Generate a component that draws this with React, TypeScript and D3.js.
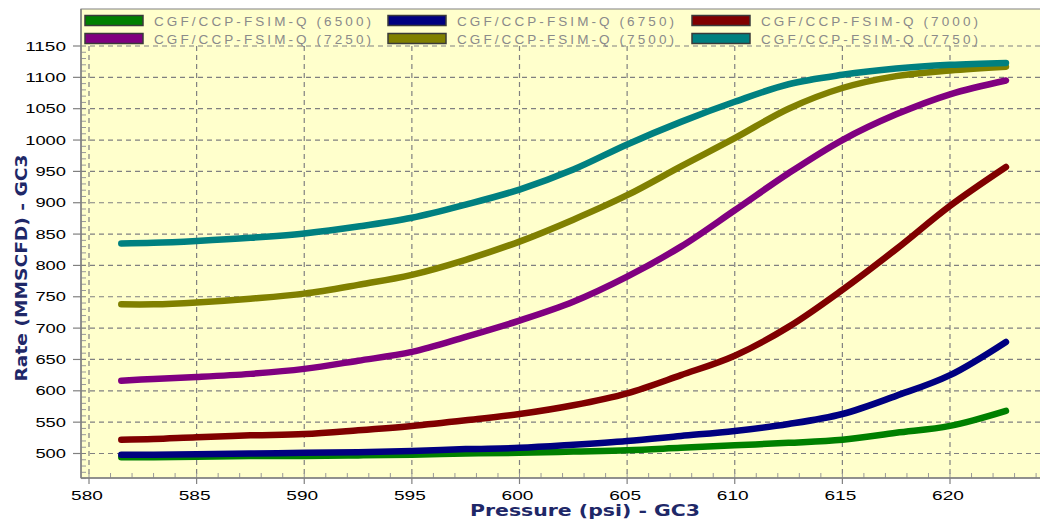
import React from "react";
import * as d3 from "d3";

const pressure = [581.5, 583, 585, 587.5, 590, 592.5, 595, 597.5, 600, 602.5, 605, 607.5, 610, 612.5, 615, 617.5, 620, 622.6];
const q6500 = [494, 494, 495, 496, 496, 497, 498, 500, 501, 503, 505, 509, 513, 517, 522, 533, 544, 568];
const q6750 = [498, 498, 499, 500, 501, 502, 504, 507, 509, 514, 520, 528, 536, 547, 563, 592, 625, 678];
const q7000 = [522, 523, 526, 529, 531, 537, 544, 553, 563, 577, 596, 625, 656, 702, 761, 826, 895, 957];
const q7250 = [616, 619, 622, 627, 635, 648, 662, 686, 712, 742, 782, 830, 888, 947, 1000, 1041, 1073, 1095];
const q7500 = [738, 738, 741, 747, 755, 769, 785, 809, 838, 873, 912, 958, 1003, 1050, 1083, 1102, 1111, 1117];
const q7750 = [835, 836, 839, 844, 851, 862, 876, 897, 921, 953, 993, 1029, 1061, 1089, 1104, 1114, 1120, 1123];

const seriesNames = [
  "CGF/CCP-FSIM-Q (6500)",
  "CGF/CCP-FSIM-Q (6750)",
  "CGF/CCP-FSIM-Q (7000)",
  "CGF/CCP-FSIM-Q (7250)",
  "CGF/CCP-FSIM-Q (7500)",
  "CGF/CCP-FSIM-Q (7750)",
];
const seriesValues = [q6500, q6750, q7000, q7250, q7500, q7750];
const seriesColors = ["#008000", "#000080", "#800000", "#800080", "#808000", "#008080"];

const xTicks = [580, 585, 590, 595, 600, 605, 610, 615, 620];
const yTicks = [500, 550, 600, 650, 700, 750, 800, 850, 900, 950, 1000, 1050, 1100, 1150];

export default function App() {
  const W = 1040, H = 520;
  const left = 81, top = 9, bottom = 478;
  const x = d3.scaleLinear().domain([580, 620]).range([89, 950]);
  const y = d3.scaleLinear().domain([500, 1150]).range([453.5, 46]);
  const line = d3
    .line<[number, number]>()
    .x((d) => x(d[0]))
    .y((d) => y(d[1]))
    .curve(d3.curveCatmullRom.alpha(0.5));

  const xMinor = d3.range(580, 625, 1);
  const yMinor = d3.range(460, 1160, 10).filter((v) => v % 50 !== 0);
  const grid = "#808080";
  const tickFont = "'Liberation Sans', Arial, sans-serif";
  const titleColor = "#1f2868";

  const legendCols = [85, 388, 692];
  const legendRows = [15.5, 33.5];

  return (
    <svg width={W} height={H} style={{ position: "absolute", left: 0, top: 0, background: "#ffffff" }}>
      <rect x={left} y={top} width={W - left + 10} height={bottom - top} fill="#FFFFCC" stroke={grid} strokeWidth={1} />

      {/* grid */}
      {yTicks.map((v) => (
        <line key={"gy" + v} x1={left} x2={W} y1={y(v)} y2={y(v)} stroke={grid} strokeWidth={1.2} strokeDasharray="5,4" />
      ))}
      {xTicks.map((v) => (
        <line key={"gx" + v} x1={x(v)} x2={x(v)} y1={y(1150)} y2={bottom} stroke={grid} strokeWidth={1.2} strokeDasharray="5,4" />
      ))}

      {/* minor ticks */}
      {xMinor.map((v) => (
        <line key={"mx" + v} x1={x(v)} x2={x(v)} y1={bottom} y2={bottom - 5} stroke="#999" strokeWidth={1} />
      ))}
      {yMinor.map((v) => (
        <line key={"my" + v} x1={left} x2={left + 5} y1={y(v)} y2={y(v)} stroke="#999" strokeWidth={1} />
      ))}

      {/* axes */}
      <line x1={left} x2={left} y1={top} y2={bottom} stroke={grid} strokeWidth={1.5} />
      <line x1={left} x2={W} y1={bottom} y2={bottom} stroke={grid} strokeWidth={1.5} />
      {yTicks.map((v) => (
        <g key={"ty" + v}>
          <line x1={left - 8} x2={left} y1={y(v)} y2={y(v)} stroke={grid} strokeWidth={1.2} />
          <text
            x={66}
            y={y(v) + 4.6}
            textAnchor="end"
            fontFamily={tickFont}
            fontSize={13}
            fill="#000"
            textLength={String(v).length * 10.2}
            lengthAdjust="spacingAndGlyphs"
          >
            {v}
          </text>
        </g>
      ))}
      {xTicks.map((v) => (
        <g key={"tx" + v}>
          <line x1={x(v)} x2={x(v)} y1={bottom} y2={bottom + 6} stroke={grid} strokeWidth={1.2} />
          <text
            x={x(v) - 2}
            y={500}
            textAnchor="middle"
            fontFamily={tickFont}
            fontSize={13.5}
            fill="#000"
            textLength={String(v).length * 10.6}
            lengthAdjust="spacingAndGlyphs"
          >
            {v}
          </text>
        </g>
      ))}

      {/* series */}
      {seriesValues.map((vals, i) => (
        <path
          key={"s" + i}
          d={line(pressure.map((p, j) => [p, vals[j]] as [number, number])) || ""}
          fill="none"
          stroke={seriesColors[i]}
          strokeWidth={6.5}
          strokeLinecap="round"
          strokeLinejoin="round"
        />
      ))}

      {/* legend */}
      {seriesNames.map((name, i) => {
        const cx = legendCols[i % 3];
        const ry = legendRows[Math.floor(i / 3)];
        return (
          <g key={"lg" + i}>
            <rect x={cx} y={ry} width={58} height={10} fill={seriesColors[i]} stroke="#3a3a3a" strokeWidth={1.5} />
            <text
              x={cx + 69}
              y={ry + 10}
              fontFamily={tickFont}
              fontSize={13.5}
              fill="#8a8a8a"
              textLength={217}
              lengthAdjust="spacing"
            >
              {name}
            </text>
          </g>
        );
      })}

      {/* axis titles */}
      <text
        x={585}
        y={516}
        textAnchor="middle"
        fontFamily="'DejaVu Sans', Verdana, sans-serif"
        fontWeight="bold"
        fontSize={15.5}
        fill={titleColor}
        textLength={230}
        lengthAdjust="spacingAndGlyphs"
      >
        Pressure (psi) - GC3
      </text>
      <text
        transform="translate(27,268) rotate(-90)"
        textAnchor="middle"
        fontFamily="'DejaVu Sans', Verdana, sans-serif"
        fontWeight="bold"
        fontSize={15.5}
        fill={titleColor}
        textLength={227}
        lengthAdjust="spacingAndGlyphs"
      >
        Rate (MMSCFD) - GC3
      </text>
    </svg>
  );
}
